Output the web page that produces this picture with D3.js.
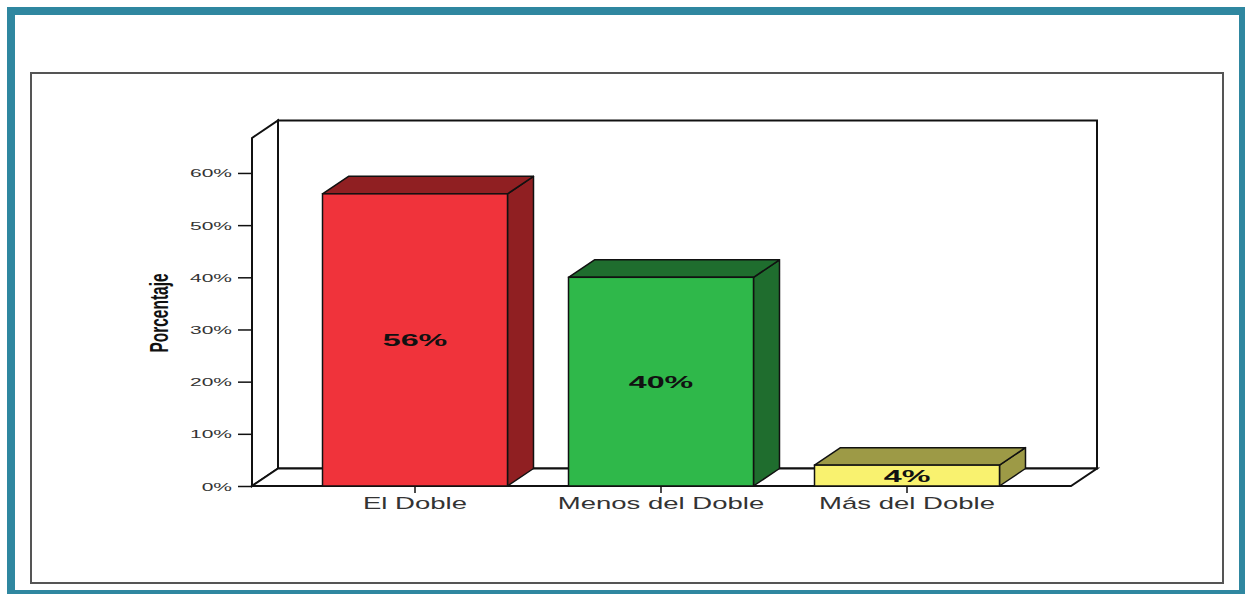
<!DOCTYPE html>
<html lang="es">
<head>
<meta charset="UTF-8">
<title>Porcentaje</title>
<script src="https://cdn.jsdelivr.net/npm/d3@7"></script>
<style>
  body { margin: 0; background: #fff; }
  svg { display: block; }
</style>
</head>
<body>
<div id="chart"></div>
<script>
// datos
const categories = ["El Doble", "Menos del Doble", "Más del Doble"];
const values = [56, 40, 4];
const valueLabels = ["56%", "40%", "4%"];
const yTicks = [0, 10, 20, 30, 40, 50, 60];

// colores (cara frontal / lados)
const frontColors = ["#f0333b", "#2fb84a", "#f9f26f"];
const sideColors = ["#901f22", "#1f6d2e", "#9d9a46"];

const W = 1245, H = 594;
const dx = 26, dy = 17.5;   // profundidad 3D

const svg = d3.select("#chart").append("svg")
  .attr("width", W).attr("height", H);

// marco exterior
svg.append("rect")
  .attr("x", 11).attr("y", 11).attr("width", 1232).attr("height", 583)
  .attr("fill", "#fff").attr("stroke", "#2f87a0").attr("stroke-width", 8);

// marco interior gris
svg.append("rect")
  .attr("x", 31).attr("y", 73).attr("width", 1192).attr("height", 510)
  .attr("fill", "none").attr("stroke", "#555").attr("stroke-width", 2);

const x = d3.scaleBand()
  .domain(categories)
  .range([292, 1030])
  .paddingInner(0.248)
  .paddingOuter(0.124);

const y = d3.scaleLinear()
  .domain([0, 66.7])
  .range([486, 138]);

const x0 = 252, x1 = 1071;   // borde frontal del suelo
const y0 = y(0), yTop = y(66.7);

const g = svg.append("g");
const line = (pts) => "M" + pts.map(p => p.join(",")).join("L") + "Z";

// pared trasera
g.append("path")
  .attr("d", line([[x0 + dx, yTop - dy], [x1 + dx, yTop - dy], [x1 + dx, y0 - dy], [x0 + dx, y0 - dy]]))
  .attr("fill", "#fff").attr("stroke", "#111").attr("stroke-width", 2);
// pared lateral
g.append("path")
  .attr("d", line([[x0, yTop], [x0 + dx, yTop - dy], [x0 + dx, y0 - dy], [x0, y0]]))
  .attr("fill", "#fff").attr("stroke", "#111").attr("stroke-width", 2);
// suelo
g.append("path")
  .attr("d", line([[x0, y0], [x0 + dx, y0 - dy], [x1 + dx, y0 - dy], [x1, y0]]))
  .attr("fill", "#fff").attr("stroke", "#111").attr("stroke-width", 2);

// barras 3D
const bars = g.selectAll(".bar")
  .data(categories.map((c, i) => ({ c: c, v: values[i], i: i })))
  .enter().append("g").attr("class", "bar");

bars.append("path")  // lado
  .attr("d", d => {
    const bx = x(d.c) + x.bandwidth(), t = y(d.v);
    return line([[bx, t], [bx + dx, t - dy], [bx + dx, y0 - dy], [bx, y0]]);
  })
  .attr("fill", d => sideColors[d.i]).attr("stroke", "#111").attr("stroke-width", 1.5)
  .attr("stroke-linejoin", "round");

bars.append("path")  // tapa
  .attr("d", d => {
    const a = x(d.c), b = a + x.bandwidth(), t = y(d.v);
    return line([[a, t], [a + dx, t - dy], [b + dx, t - dy], [b, t]]);
  })
  .attr("fill", d => sideColors[d.i]).attr("stroke", "#111").attr("stroke-width", 1.5)
  .attr("stroke-linejoin", "round");

bars.append("rect")  // frente
  .attr("x", d => x(d.c))
  .attr("y", d => y(d.v))
  .attr("width", x.bandwidth())
  .attr("height", d => y0 - y(d.v))
  .attr("fill", d => frontColors[d.i]).attr("stroke", "#111").attr("stroke-width", 1.5);

bars.append("text")
  .attr("transform", d => "translate(" + (x(d.c) + x.bandwidth() / 2) + "," + ((y(d.v) + y0) / 2 + 6) + ") scale(1.9,1)")
  .attr("text-anchor", "middle")
  .attr("font-family", "Liberation Sans, Arial, sans-serif")
  .attr("font-weight", "bold")
  .attr("font-size", 17)
  .attr("fill", "#111")
  .text(d => valueLabels[d.i]);

// eje Y
const yAxis = svg.append("g")
  .attr("transform", "translate(" + x0 + ",0)")
  .call(d3.axisLeft(y).tickValues(yTicks).tickSize(14).tickFormat(d => d + "%"));
yAxis.select(".domain").remove();
yAxis.selectAll(".tick line").attr("stroke", "#111").attr("stroke-width", 1.5);
yAxis.selectAll(".tick text")
  .attr("x", null).attr("dy", null)
  .attr("transform", "translate(-20,4) scale(2,1)")
  .attr("font-family", "Liberation Sans, Arial, sans-serif")
  .attr("font-size", 10.5)
  .attr("fill", "#333");

// eje X
const xAxis = svg.append("g")
  .attr("transform", "translate(0," + y0 + ")")
  .call(d3.axisBottom(x).tickSize(7));
xAxis.select(".domain").remove();
xAxis.selectAll(".tick line").attr("stroke", "#111").attr("stroke-width", 1.5);
xAxis.selectAll(".tick text")
  .attr("y", null).attr("dy", null)
  .attr("transform", "translate(0,23) scale(1.72,1)")
  .attr("font-family", "Liberation Sans, Arial, sans-serif")
  .attr("font-size", 16)
  .attr("fill", "#333");

// título del eje Y
svg.append("text")
  .attr("transform", "translate(168,313) scale(1.65,1) rotate(-90)")
  .attr("text-anchor", "middle")
  .attr("font-family", "Liberation Sans, Arial, sans-serif")
  .attr("font-weight", "bold")
  .attr("font-size", 15.5)
  .attr("fill", "#111")
  .text("Porcentaje");
</script>
</body>
</html>
